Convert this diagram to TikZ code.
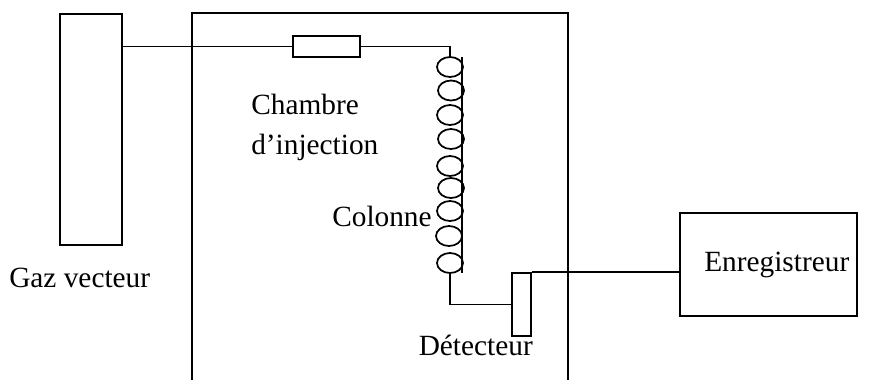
\documentclass[tikz,border=0pt]{standalone}
\usepackage{fontspec}
\setmainfont{Liberation Serif}
\tikzset{
	boite/.style={draw, line width=1.3pt, inner sep=0pt, minimum width=#1},
	boucle/.style={draw, ellipse, line width=1.3pt, inner sep=0pt, minimum width=26\unitlength, minimum height=20\unitlength},
	fil/.style={line width=1.3pt},
	texte/.style={inner sep=0pt, anchor=base west, font=\fontsize{22}{22}\selectfont}
}
\setlength{\unitlength}{0.75pt}
\usetikzlibrary{shapes.geometric}
\begin{document}
\begin{tikzpicture}[x=0.75pt,y=-0.75pt]
		\useasboundingbox (0,0) rectangle (871,380);
		\node[boite=62\unitlength, minimum height=231\unitlength] (gaz) at (91,129.5) {};
		\node[boite=67\unitlength, minimum height=21\unitlength] (chambre) at (326.5,46.5) {};
		\node[boite=19\unitlength, minimum height=63\unitlength] (detecteur) at (521.5,304.5) {};
		\node[boite=177\unitlength, minimum height=103\unitlength] (enreg) at (768.5,264.5) {};
		\coordinate (fa) at (192,380);
		\coordinate (fb) at (192,13);
		\coordinate (fc) at (568,13);
		\coordinate (fd) at (568,380);
		\draw[fil] (fa) -- (fb) -- (fc) -- (fd);
		\foreach \name/\xc/\yc in {c1/450/67, c2/451/90.5, c3/450/115, c4/451/139, c5/450/166, c6/451/188, c7/450/211, c8/449/236, c9/450/263}
			\node[boucle] (\name) at (\xc,\yc) {};
		\coordinate (axeh) at (462,57);
		\coordinate (axeb) at (462,273);
		\draw[fil] (axeh) -- (axeb);
		\draw[fil] (gaz.east |- chambre.west) -- (chambre.west);
		\draw[fil] (chambre.east) -| (c1.north);
		\draw[fil] (c9.south) |- (detecteur.west);
		\draw[fil] (detecteur.north east) -- (detecteur.north east -| enreg.west);
		\node[texte] (lgaz) at (9,287) {Gaz vecteur};
		\node[texte] (lch) at (251,114) {Chambre};
		\node[texte] (linj) at (251,154) {d’injection};
		\node[texte] (lcol) at (332,226) {Colonne};
		\node[texte] (ldet) at (418.5,355) {Détecteur};
		\node[texte] (lenr) at (704,271) {Enregistreur};
	\end{tikzpicture}
\end{document}
